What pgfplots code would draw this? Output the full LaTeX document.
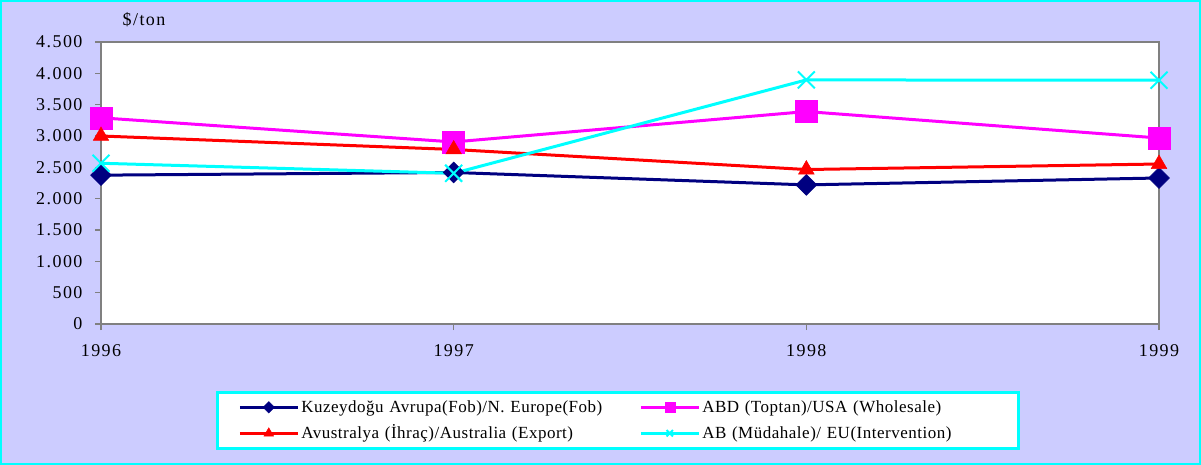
\documentclass[border=0pt]{standalone}
\usepackage{fontspec}
\setmainfont{Liberation Serif}[LetterSpace=8]
\usepackage{pgfplots}
\pgfplotsset{compat=1.18}
\definecolor{bg}{HTML}{CCCCFF}
\definecolor{navy}{HTML}{000080}
\definecolor{axgray}{HTML}{808080}
\definecolor{mag}{HTML}{FF00FF}
\definecolor{cy}{HTML}{00FFFF}
\begin{document}
\begin{tikzpicture}
\fill[bg] (0bp,0bp) rectangle (1201bp,465bp);
\draw[cy, line width=2bp] (1bp,1bp) rectangle (1200bp,464bp);
\useasboundingbox (0bp,0bp) rectangle (1201bp,465bp);
\begin{axis}[
  at={(101bp,141bp)}, anchor=south west,
  scale only axis, width=1058bp, height=282bp,
  xmin=1996, xmax=1999, ymin=0, ymax=4500,
  xtick={1996,1997,1998,1999}, xticklabels={1996,1997,1998,1999},
  ytick={0,500,...,4500},
  yticklabels={0,500,1.000,1.500,2.000,2.500,3.000,3.500,4.000,4.500},
  tick align=outside, tick pos=left,
  major tick length=6bp,
  axis line style={axgray, line width=1.5bp},
  tick style={axgray, line width=1.5bp},
  axis background/.style={fill=white},
  ticklabel style={font=\fontsize{18bp}{20bp}\selectfont, text=black},
  xticklabel style={yshift=-11bp},
  yticklabel style={xshift=-9bp},
  clip=false,
  legend columns=2,
  legend image code/.code={\draw[mark repeat=2,mark phase=2,#1] plot coordinates {(0bp,0bp) (29bp,0bp) (58bp,0bp)};},
  legend style={at={(0.1087,-0.2376)}, anchor=north west,
    fill=white, draw=cy, line width=2.5bp,
    inner xsep=21bp, inner ysep=2bp,
    font=\fontsize{17bp}{19bp}\selectfont\addfontfeatures{LetterSpace=3},
    cells={anchor=west}, column sep=0pt, row sep=0pt,
    nodes={inner xsep=2bp, inner ysep=4bp, text height=14bp, text depth=4bp, align=left},
    /tikz/column 2/.style={nodes={text width=336bp}},
    /tikz/column 4/.style={nodes={text width=293bp}}},
]
\addplot[navy, line width=3bp, mark=square*, mark size=7.4bp,
  mark options={rotate=45, line width=0.5bp, solid},
  legend image post style={mark size=4bp}]
  coordinates {(1996,2375) (1997,2418) (1998,2220) (1999,2330)};
\addlegendentry{Kuzeydoğu Avrupa(Fob)/N. Europe(Fob)}
\addplot[mag, line width=3bp, mark=square*, mark size=11bp,
  mark options={line width=0.5bp, solid},
  legend image post style={mark size=5bp}]
  coordinates {(1996,3290) (1997,2905) (1998,3390) (1999,2968)};
\addlegendentry{ABD (Toptan)/USA (Wholesale)}
\addplot[red, line width=3bp, mark=triangle*, mark size=9bp,
  mark options={line width=0.5bp, solid},
  legend image post style={mark size=5.5bp}]
  coordinates {(1996,3000) (1997,2785) (1998,2465) (1999,2553)};
\addlegendentry{Avustralya (İhraç)/Australia (Export)}
\addplot[cy, line width=3bp, mark=x, mark size=12bp,
  mark options={line width=2bp, solid},
  legend image post style={mark size=4.5bp}]
  coordinates {(1996,2565) (1997,2405) (1998,3895) (1999,3890)};
\addlegendentry{AB (Müdahale)/ EU(Intervention)}
\end{axis}
\node[font=\fontsize{18bp}{20bp}\selectfont] at (144bp,445bp) {\$/ton};
\end{tikzpicture}
\end{document}
